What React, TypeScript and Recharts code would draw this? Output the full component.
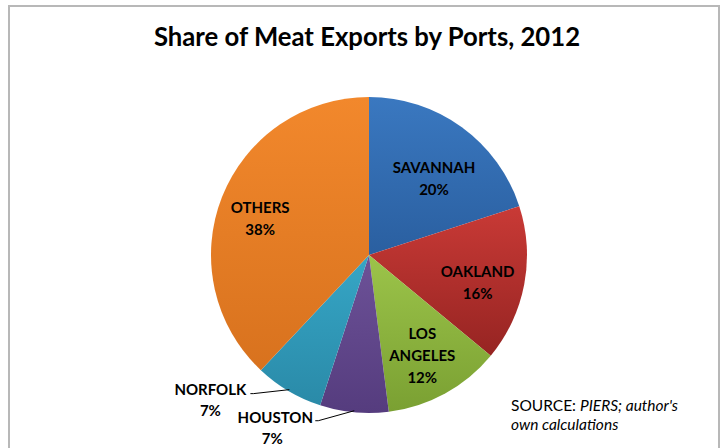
import React from 'react';
import { PieChart, Pie, Cell } from 'recharts';

const ports = ['SAVANNAH', 'OAKLAND', 'LOS ANGELES', 'HOUSTON', 'NORFOLK', 'OTHERS'];
const shares = [20, 16, 12, 7, 7, 38];
const COLORS = [
  ['#3a78c0', '#2a5fa0'],
  ['#c93a36', '#962422'],
  ['#9cc44a', '#7aa032'],
  ['#6d5298', '#553c7e'],
  ['#36a6c6', '#2a8aa8'],
  ['#f2882c', '#d8721e'],
];

const data = ports.map((name, i) => ({ name, value: shares[i] }));

const RADIAN = Math.PI / 180;
const FONT = 'Lato, "Open Sans", sans-serif';

// small nudges so inside labels sit where Excel's best-fit put them
const NUDGE: Record<string, [number, number]> = {
  SAVANNAH: [0, 12],
  OAKLAND: [0, 6],
  'LOS ANGELES': [0, 3],
  OTHERS: [-6, 4],
};

function renderLabel(props: any) {
  const { cx, cy, midAngle, outerRadius, name, value } = props;
  const cos = Math.cos(-midAngle * RADIAN);
  const sin = Math.sin(-midAngle * RADIAN);
  const textStyle = { fontFamily: FONT, fontWeight: 700, fontSize: 15, fill: '#000' };

  // outside labels with leader lines for the small slices
  if (name === 'NORFOLK' || name === 'HOUSTON') {
    const ex = cx + outerRadius * 0.99 * cos;
    const ey = cy + outerRadius * 0.99 * sin;
    const isNorfolk = name === 'NORFOLK';
    const sx = ex - 36;
    const sy = isNorfolk ? ey + 4 : ey + 10;
    const tx = isNorfolk ? sx - 43 : sx - 43;
    const ty = isNorfolk ? sy - 5 : sy - 4;
    return (
      <g>
        <polyline points={`${ex},${ey} ${sx},${sy} ${sx - 3},${sy}`} stroke="#000" strokeWidth={1} fill="none" />
        <text x={tx} y={ty} textAnchor="middle" dominantBaseline="central" style={textStyle}>
          {name}
        </text>
        <text x={isNorfolk ? tx : tx - 3} y={ty + 21} textAnchor="middle" dominantBaseline="central" style={textStyle}>
          {value}%
        </text>
      </g>
    );
  }

  const r = outerRadius * 0.7;
  const [nx, ny] = NUDGE[name] || [0, 0];
  const x = cx + r * cos + nx;
  const y = cy + r * sin + ny;
  const lines = name === 'LOS ANGELES' ? ['LOS', 'ANGELES', `${value}%`] : [name, `${value}%`];
  const start = y - ((lines.length - 1) * 22) / 2;
  return (
    <g>
      {lines.map((l, i) => (
        <text key={i} x={x} y={start + i * 22} textAnchor="middle" dominantBaseline="central" style={textStyle}>
          {l}
        </text>
      ))}
    </g>
  );
}

export default function App() {
  return (
    <div style={{ position: 'absolute', left: 0, top: 0, width: 725, height: 448, overflow: 'hidden', background: '#fff' }}>
      <div
        style={{
          position: 'absolute',
          left: 8,
          top: 5,
          width: 712,
          height: 470,
          border: '2px solid #b8b8b8',
          boxSizing: 'border-box',
        }}
      />
      <div
        style={{
          position: 'absolute',
          left: 0,
          top: 21,
          width: 734,
          textAlign: 'center',
          fontFamily: FONT,
          fontWeight: 700,
          fontSize: 25.7,
          color: '#000',
        }}
      >
        Share of Meat Exports by Ports, 2012
      </div>
      <div style={{ position: 'absolute', left: 0, top: 0 }}>
        <PieChart width={725} height={448} margin={{ top: 0, right: 0, bottom: 0, left: 0 }}>
          <defs>
            {COLORS.map((c, i) => (
              <linearGradient key={i} id={`grad-${i}`} x1="0" y1="0" x2="0" y2="1">
                <stop offset="0%" stopColor={c[0]} />
                <stop offset="100%" stopColor={c[1]} />
              </linearGradient>
            ))}
          </defs>
          <Pie
            data={data}
            dataKey="value"
            nameKey="name"
            cx={369}
            cy={255}
            outerRadius={158}
            startAngle={90}
            endAngle={-270}
            stroke="none"
            labelLine={false}
            label={renderLabel}
            isAnimationActive={false}
          >
            {data.map((entry, i) => (
              <Cell key={entry.name} fill={`url(#grad-${i})`} />
            ))}
          </Pie>
        </PieChart>
      </div>
      <div
        style={{
          position: 'absolute',
          left: 511,
          top: 396,
          fontFamily: FONT,
          fontSize: 15.5,
          lineHeight: '19px',
          color: '#000',
        }}
      >
        SOURCE: <i>PIERS; author's</i>
        <br />
        <i>own calculations</i>
      </div>
    </div>
  );
}
